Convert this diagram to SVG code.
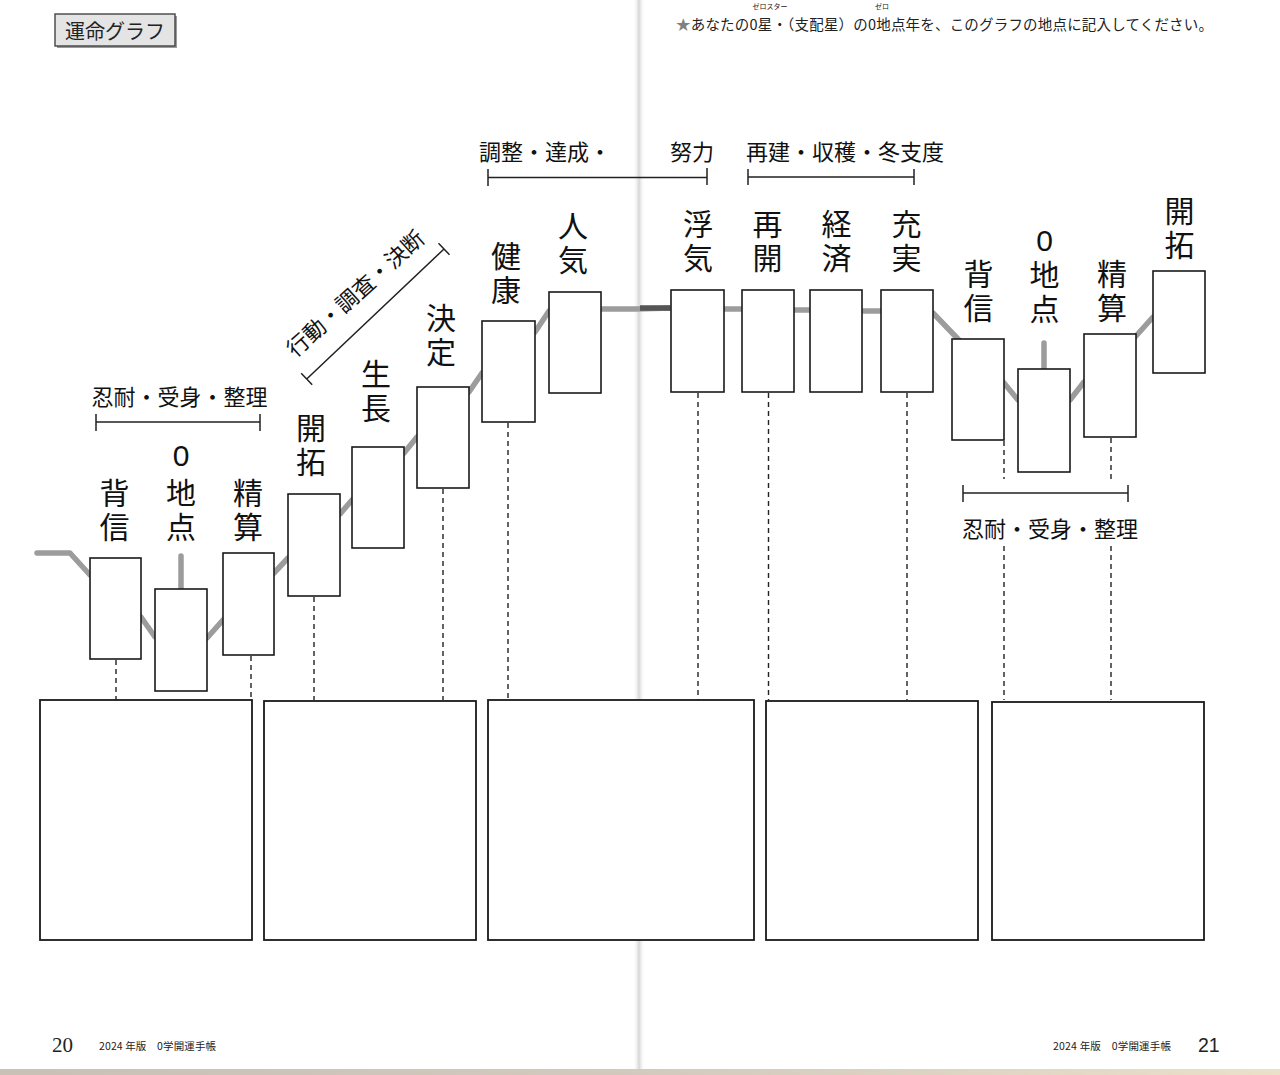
<svg xmlns="http://www.w3.org/2000/svg" width="1280" height="1075" viewBox="0 0 1280 1075">
<defs>
<style>
.box{fill:#fff;stroke:#1a1a1a;stroke-width:1.6}
.big{fill:#fff;stroke:#1a1a1a;stroke-width:1.8}
.lbl{font-family:"Noto Sans CJK JP","Noto Sans CJK SC",sans-serif;font-size:30px;fill:#111;writing-mode:vertical-rl;text-orientation:upright;letter-spacing:4px}
.zero{font-family:"Liberation Sans",sans-serif;font-size:30px;fill:#111;text-anchor:middle;dominant-baseline:central}
.brk{font-family:"Noto Sans CJK JP","Noto Sans CJK SC",sans-serif;font-size:22px;fill:#111;dominant-baseline:central}
.bline{stroke:#222;stroke-width:1.5;fill:none}
.dash{stroke:#222;stroke-width:1.4;stroke-dasharray:5 4;fill:none}
.trend{stroke:#9c9c9c;stroke-width:5.5;fill:none;stroke-linejoin:round;stroke-linecap:round}
.note{font-family:"Noto Sans CJK JP","Noto Sans CJK SC",sans-serif;fill:#222}
</style>
<linearGradient id="gutter" x1="0" x2="1" y1="0" y2="0">
<stop offset="0" stop-color="#fff" stop-opacity="0"/>
<stop offset="0.5" stop-color="#d6d6d6"/>
<stop offset="1" stop-color="#fff" stop-opacity="0"/>
</linearGradient>
<linearGradient id="edge" x1="0" x2="1" y1="0" y2="0">
<stop offset="0" stop-color="#c9c0b6"/>
<stop offset="0.5" stop-color="#d3c9bd"/>
<stop offset="1" stop-color="#ebe0c8"/>
</linearGradient>
</defs>
<rect x="0" y="0" width="1280" height="1075" fill="#fff"/>
<rect x="633" y="0" width="12" height="1075" fill="url(#gutter)"/>
<rect x="0" y="1069" width="1280" height="6" fill="url(#edge)"/>

<g id="title">
<rect x="57" y="16" width="120" height="32" fill="#9a9a9a"/>
<rect x="55" y="14" width="120" height="32" fill="#e4e4e4" stroke="#444" stroke-width="1.4"/>
<text x="65" y="30" class="note" font-size="20" dominant-baseline="central" fill="#111">運命グラフ</text>
</g>

<g id="instruction">
<text x="676" y="23" class="note" font-size="14.5" dominant-baseline="central" textLength="537" lengthAdjust="spacing"><tspan fill="#808080">★</tspan>あなたの0星・（支配星）の0地点年を、このグラフの地点に記入してください。</text>
<text x="770" y="6" class="note" font-size="7" text-anchor="middle" dominant-baseline="central">ゼロスター</text>
<text x="882" y="6" class="note" font-size="7" text-anchor="middle" dominant-baseline="central">ゼロ</text>
</g>

<g id="connectors">
<polyline class="trend" points="37,553 70,553 90,575 141,617 155,637 207,638 223,620 274,573 288,558 340,514 352,500 404,453 417,437 469,392 482,373 535,332 549,311 601,309 636,309 671,308 724,309 742,309 794,310 810,310 862,311 881,311 933,313 958,339 1004,383 1018,400 1070,400 1084,382 1136,336 1153,317 1180,300"/>
<line x1="640" y1="308" x2="670" y2="308" stroke="#555" stroke-width="5.5"/>
<line class="trend" x1="181" y1="556" x2="181" y2="590"/>
<line class="trend" x1="1044" y1="343" x2="1044" y2="370"/>
<line class="dash" x1="116" y1="660" x2="116" y2="700"/>
<line class="dash" x1="251" y1="656" x2="251" y2="700"/>
<line class="dash" x1="314" y1="597" x2="314" y2="700"/>
<line class="dash" x1="443" y1="489" x2="443" y2="700"/>
<line class="dash" x1="508" y1="423" x2="508" y2="700"/>
<line class="dash" x1="698" y1="393" x2="698" y2="700"/>
<line class="dash" x1="768.5" y1="393" x2="768.5" y2="700"/>
<line class="dash" x1="907" y1="393" x2="907" y2="700"/>
<line class="dash" x1="1004" y1="441" x2="1004" y2="479"/>
<line class="dash" x1="1004" y1="546" x2="1004" y2="700"/>
<line class="dash" x1="1111" y1="438" x2="1111" y2="479"/>
<line class="dash" x1="1111" y1="546" x2="1111" y2="700"/>
</g>

<g id="node-haishin-1"><rect class="box" x="90" y="558" width="51" height="101"/><text class="lbl" x="114.5" y="478">背信</text></g>
<g id="node-zero-1"><rect class="box" x="155" y="589" width="52" height="102"/><text class="zero" x="181" y="455">0</text><text class="lbl" x="181" y="478">地点</text></g>
<g id="node-seisan-1"><rect class="box" x="223" y="553" width="51" height="102"/><text class="lbl" x="248" y="478">精算</text></g>
<g id="node-kaitaku-1"><rect class="box" x="288" y="494" width="52" height="102"/><text class="lbl" x="311" y="413">開拓</text></g>
<g id="node-seicho"><rect class="box" x="352" y="447" width="52" height="101"/><text class="lbl" x="376" y="359">生長</text></g>
<g id="node-kettei"><rect class="box" x="417" y="387" width="52" height="101"/><text class="lbl" x="441" y="303">決定</text></g>
<g id="node-kenko"><rect class="box" x="482" y="321" width="53" height="101"/><text class="lbl" x="506" y="241">健康</text></g>
<g id="node-ninki"><rect class="box" x="549" y="292" width="52" height="101"/><text class="lbl" x="573" y="211">人気</text></g>
<g id="node-uwaki"><rect class="box" x="671" y="290" width="53" height="102"/><text class="lbl" x="698" y="209">浮気</text></g>
<g id="node-saikai"><rect class="box" x="742" y="290" width="52" height="102"/><text class="lbl" x="767.5" y="209">再開</text></g>
<g id="node-keizai"><rect class="box" x="810" y="290" width="52" height="102"/><text class="lbl" x="836.5" y="209">経済</text></g>
<g id="node-jujitsu"><rect class="box" x="881" y="290" width="52" height="102"/><text class="lbl" x="906.5" y="209">充実</text></g>
<g id="node-haishin-2"><rect class="box" x="952" y="339" width="52" height="101"/><text class="lbl" x="978.5" y="259">背信</text></g>
<g id="node-zero-2"><rect class="box" x="1018" y="369" width="52" height="103"/><text class="zero" x="1044.5" y="240">0</text><text class="lbl" x="1044.5" y="260">地点</text></g>
<g id="node-seisan-2"><rect class="box" x="1084" y="334" width="52" height="103"/><text class="lbl" x="1112" y="259">精算</text></g>
<g id="node-kaitaku-2"><rect class="box" x="1153" y="271" width="52" height="102"/><text class="lbl" x="1179.5" y="196">開拓</text></g>

<g id="bracket-nintai-1">
<path class="bline" d="M96,422 H260 M96,414 V431 M260,414 V431"/>
<text class="brk" x="179.5" y="395" text-anchor="middle">忍耐・受身・整理</text>
</g>
<g id="bracket-kodo">
<path class="bline" d="M306.7,379 L444,249 M301.2,373.2 L312.2,384.8 M438.5,243.2 L449.5,254.8"/>
<text class="brk" transform="translate(354,292) rotate(-42)" x="0" y="0" text-anchor="middle">行動・調査・決断</text>
</g>
<g id="bracket-chosei">
<path class="bline" d="M488,177.5 H707 M488,169 V186 M707,168 V185"/>
<text class="brk" x="479" y="150">調整・達成・</text>
<text class="brk" x="670" y="150">努力</text>
</g>
<g id="bracket-saiken">
<path class="bline" d="M748,177 H914 M748,169 V185 M914,169 V185"/>
<text class="brk" x="746" y="150">再建・収穫・冬支度</text>
</g>
<g id="bracket-nintai-2">
<path class="bline" d="M963,493 H1128 M963,485 V502 M1128,485 V502"/>
<text class="brk" x="1050" y="527" text-anchor="middle">忍耐・受身・整理</text>
</g>

<g id="answer-1"><rect class="big" x="40" y="700" width="212" height="240"/></g>
<g id="answer-2"><rect class="big" x="264" y="701" width="212" height="239"/></g>
<g id="answer-3"><rect class="big" x="488" y="700" width="266" height="240"/></g>
<g id="answer-4"><rect class="big" x="766" y="701" width="212" height="239"/></g>
<g id="answer-5"><rect class="big" x="992" y="702" width="212" height="238"/></g>

<g id="footer">
<text x="52" y="1052" font-family="Liberation Serif,serif" font-size="21" fill="#222">20</text>
<text x="99" y="1045" class="note" font-size="10.5" dominant-baseline="central" textLength="117" lengthAdjust="spacing">2024 年版　0学開運手帳</text>
<text x="1053" y="1045" class="note" font-size="10.5" dominant-baseline="central" textLength="118" lengthAdjust="spacing">2024 年版　0学開運手帳</text>
<text x="1198" y="1052" font-family="Liberation Sans,sans-serif" font-size="19.5" fill="#222">21</text>
</g>
</svg>
